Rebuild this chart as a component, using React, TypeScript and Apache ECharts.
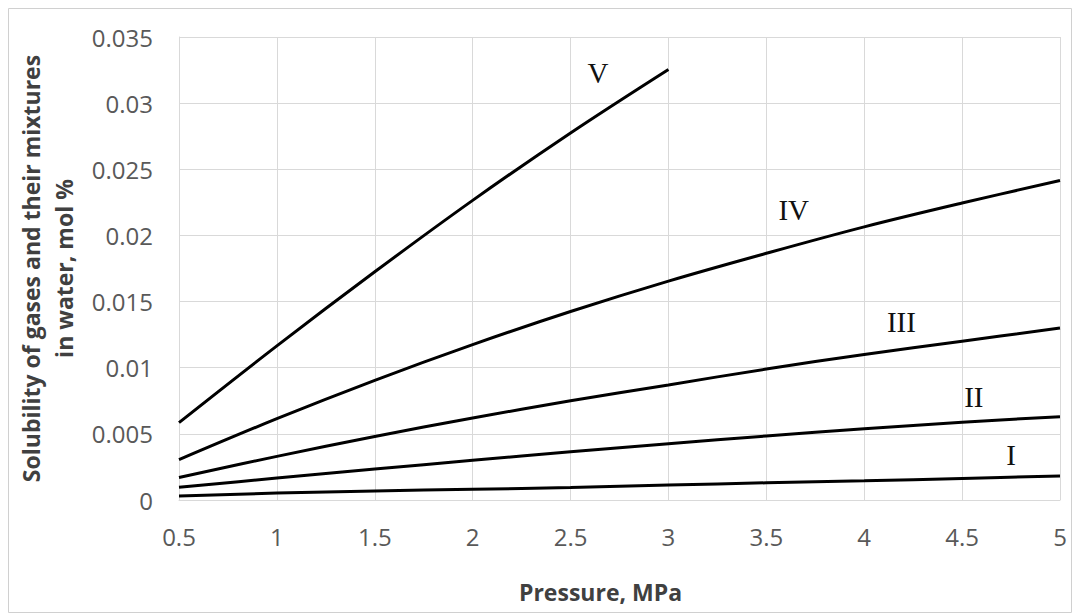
import React, { useEffect, useRef } from "react";
import * as echarts from "echarts";

// Pressure, MPa
const pressure = [0.5, 1, 1.5, 2, 2.5, 3, 3.5, 4, 4.5, 5];

// Solubility, mol %
const curveI = [0.0003, 0.00052, 0.00068, 0.00081, 0.00094, 0.00113, 0.0013, 0.00145, 0.00163, 0.00182];
const curveII = [0.00096, 0.00166, 0.00234, 0.003, 0.00364, 0.00426, 0.00484, 0.00538, 0.00588, 0.0063];
const curveIII = [0.0017, 0.0033, 0.0048, 0.0062, 0.0075, 0.0087, 0.0099, 0.011, 0.012, 0.013];
const curveIV = [0.00305, 0.00615, 0.00905, 0.01175, 0.01425, 0.01655, 0.01865, 0.02065, 0.02245, 0.02415];
const curveV = [0.00585, 0.01165, 0.01725, 0.02265, 0.02775, 0.03255];

const seriesNames = ["I", "II", "III", "IV", "V"];
const seriesValues = [curveI, curveII, curveIII, curveIV, curveV];

// Curve captions, in data coordinates
const captionX = [4.75, 4.56, 4.19, 3.64, 2.64];
const captionY = [0.0034, 0.0078, 0.01346, 0.0219, 0.0323];

const xTicks = { min: 0.5, max: 5, interval: 0.5 };
const yTicks = { min: 0, max: 0.035, interval: 0.005 };

const tickFont = "'Open Sans', 'DejaVu Sans', sans-serif";

export default function App() {
  const ref = useRef<HTMLDivElement>(null);

  useEffect(() => {
    if (!ref.current) return;
    const chart = echarts.init(ref.current, null, { renderer: "svg" });

    const series = seriesValues.map((vals, i) => ({
      name: seriesNames[i],
      type: "line",
      data: vals.map((v, j) => [pressure[j], v]),
      smooth: 0.35,
      symbol: "none",
      lineStyle: { color: "#000", width: 3 },
      markPoint: {
        symbol: "circle",
        symbolSize: 0,
        silent: true,
        data: [
          {
            coord: [captionX[i], captionY[i]],
            label: {
              show: true,
              position: "inside",
              formatter: seriesNames[i],
              fontFamily: "'Liberation Serif', 'Times New Roman', serif",
              fontSize: 29,
              color: "#111",
            },
          },
        ],
      },
    }));

    chart.setOption({
      animation: false,
      backgroundColor: "#fff",
      grid: {
        left: 179,
        right: 14,
        top: 37,
        bottom: 115,
        containLabel: false,
        outerBoundsMode: "none",
      },
      xAxis: {
        type: "value",
        min: xTicks.min,
        max: xTicks.max,
        interval: xTicks.interval,
        name: "Pressure, MPa",
        nameLocation: "middle",
        nameGap: 80,
        nameTextStyle: {
          fontFamily: tickFont,
          fontWeight: "bold",
          fontSize: 23,
          color: "#404040",
          padding: [0, 38, 0, 0],
        },
        axisLine: { show: true, lineStyle: { color: "#d9d9d9", width: 1 } },
        axisTick: { show: false },
        axisLabel: {
          fontFamily: tickFont,
          fontSize: 24,
          color: "#595959",
          margin: 24,
          formatter: (v: number) => String(+v.toFixed(1)),
        },
        splitLine: { show: true, lineStyle: { color: "#d9d9d9", width: 1 } },
      },
      yAxis: {
        type: "value",
        min: yTicks.min,
        max: yTicks.max,
        interval: yTicks.interval,
        name: "Solubility of gases and their mixtures\nin water, mol %",
        nameLocation: "middle",
        nameGap: 98,
        nameTextStyle: {
          fontFamily: tickFont,
          fontWeight: "bold",
          fontSize: 23,
          lineHeight: 33,
          color: "#404040",
        },
        axisLine: { show: true, lineStyle: { color: "#d9d9d9", width: 1 } },
        axisTick: { show: false },
        axisLabel: {
          fontFamily: tickFont,
          fontSize: 24,
          color: "#595959",
          margin: 26,
          formatter: (v: number) => String(+v.toFixed(3)),
        },
        splitLine: { show: true, lineStyle: { color: "#d9d9d9", width: 1 } },
      },
      graphic: [
        {
          type: "rect",
          shape: { x: 8.5, y: 8.5, width: 1063, height: 604 },
          style: { fill: "none", stroke: "#d0d0d0", lineWidth: 1 },
          silent: true,
        },
      ],
      series,
    });

    return () => chart.dispose();
  }, []);

  return (
    <div
      ref={ref}
      style={{ position: "absolute", left: 0, top: 0, width: 1074, height: 615 }}
    />
  );
}
